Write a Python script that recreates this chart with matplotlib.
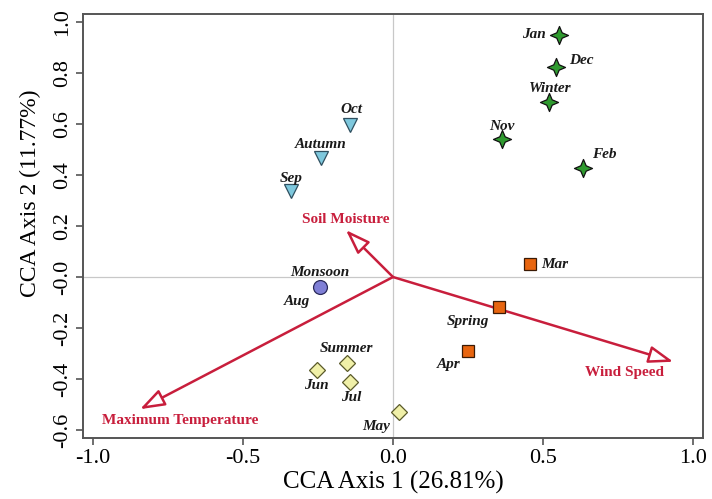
import matplotlib
matplotlib.use("Agg")
import matplotlib.pyplot as plt
from matplotlib.path import Path

# ---------------- data ----------------
winter_names = ["Jan", "Dec", "Winter", "Nov", "Feb"]
winter_x = [0.553, 0.542, 0.521, 0.362, 0.634]
winter_y = [0.949, 0.825, 0.685, 0.540, 0.426]

autumn_names = ["Oct", "Autumn", "Sep"]
autumn_x = [-0.143, -0.240, -0.340]
autumn_y = [0.596, 0.465, 0.337]

monsoon_x = [-0.243]
monsoon_y = [-0.038]

summer_names = ["Summer", "Jun", "Jul", "May"]
summer_x = [-0.154, -0.254, -0.143, 0.021]
summer_y = [-0.336, -0.365, -0.413, -0.528]

spring_names = ["Mar", "Spring", "Apr"]
spring_x = [0.457, 0.354, 0.251]
spring_y = [0.051, -0.119, -0.289]

env_names = ["Soil Moisture", "Wind Speed", "Maximum Temperature"]
env_x = [-0.157, 0.934, -0.843]
env_y = [0.184, -0.332, -0.518]

xticks = [-1.0, -0.5, 0.0, 0.5, 1.0]
xtick_labels = ["-1.0", "-0.5", "0.0", "0.5", "1.0"]
yticks = [-0.6, -0.4, -0.2, 0.0, 0.2, 0.4, 0.6, 0.8, 1.0]
ytick_labels = ["-0.6", "-0.4", "-0.2", "-0.0", "0.2", "0.4", "0.6", "0.8", "1.0"]

xlabel = "CCA Axis 1 (26.81%)"
ylabel = "CCA Axis 2 (11.77%)"

# ---------------- style / layout ----------------
plt.rcParams["font.family"] = ["Liberation Serif", "DejaVu Serif"]

fig = plt.figure(figsize=(7.12, 4.99), dpi=100)
ax = fig.add_axes([0.1166, 0.1222, 0.8708, 0.8498])
ax.set_xlim(-1.033, 1.033)
ax.set_ylim(-0.631, 1.031)

red = "#c81e3c"
spine_col = "#555555"
px = 0.72  # points per pixel

ax.axhline(0, color="#c8c8c8", lw=0.9, zorder=0)
ax.axvline(0, color="#c8c8c8", lw=0.9, zorder=0)

lab_kw = dict(fontsize=11, fontweight="bold", fontstyle="italic",
              color="#1a1a1a", ha="center", va="center",
              textcoords="offset points", zorder=6)

def label(name, x, y, dx, dy):
    ax.annotate(name, (x, y), xytext=(dx * px, -dy * px), **lab_kw)

# winter: 4-point stars
star = Path.unit_regular_star(4, 0.42)
ax.plot(winter_x, winter_y, ls="none", marker=star, ms=13,
        mfc="#2f9a2f", mec="#111111", mew=0.9, zorder=5)
winter_off = [(-25, 0), (26, -6), (1, -14), (0, -13), (21, -14)]
for n, x, y, (dx, dy) in zip(winter_names, winter_x, winter_y, winter_off):
    label(n, x, y, dx, dy)

# autumn: down triangles
ax.plot(autumn_x, autumn_y, ls="none", marker="v", ms=10.5,
        mfc="#7ec8dd", mec="#2f4f5f", mew=0.9, zorder=5)
autumn_off = [(1, -15), (0, -14), (0, -13)]
for n, x, y, (dx, dy) in zip(autumn_names, autumn_x, autumn_y, autumn_off):
    label(n, x, y, dx, dy)

# monsoon: circle
ax.plot(monsoon_x, monsoon_y, ls="none", marker="o", ms=10,
        mfc="#7f7fd6", mec="#2a2a5a", mew=0.9, zorder=5)
label("Monsoon", monsoon_x[0], monsoon_y[0], 0, -14)
label("Aug", monsoon_x[0], monsoon_y[0], -23, 15)

# summer: diamonds
ax.plot(summer_x, summer_y, ls="none", marker="D", ms=8.5,
        mfc="#f0f0a8", mec="#5a5a2a", mew=0.9, zorder=5)
summer_off = [(0, -14), (0, 15), (1, 15), (-23, 15)]
for n, x, y, (dx, dy) in zip(summer_names, summer_x, summer_y, summer_off):
    label(n, x, y, dx, dy)

# spring: squares
ax.plot(spring_x, spring_y, ls="none", marker="s", ms=9,
        mfc="#e8650f", mec="#3a1a05", mew=0.9, zorder=5)
spring_off = [(25, 0), (-31, 14), (-20, 14)]
for n, x, y, (dx, dy) in zip(spring_names, spring_x, spring_y, spring_off):
    label(n, x, y, dx, dy)

# environmental arrows
env_off = [(0, -11), (-49, 11), (40, 11)]
for n, x, y, (dx, dy) in zip(env_names, env_x, env_y, env_off):
    ax.annotate("", xy=(x, y), xytext=(0, 0),
                arrowprops=dict(arrowstyle="-|>,head_length=1.0,head_width=0.35",
                                mutation_scale=15, ec=red, fc="white", lw=1.8,
                                shrinkA=0, shrinkB=0), zorder=4)
    ax.annotate(n, (x, y), xytext=(dx * px, -dy * px), textcoords="offset points",
                fontsize=11, fontweight="bold", color=red,
                ha="center", va="center", zorder=6)

# axes styling
for s in ax.spines.values():
    s.set_color(spine_col)
    s.set_linewidth(1.4)
ax.set_xticks(xticks)
ax.set_xticklabels(xtick_labels)
ax.set_yticks(yticks)
ax.set_yticklabels(ytick_labels, rotation=90, va="center")
ax.tick_params(direction="out", length=5, width=1.2, color=spine_col,
               labelsize=16, pad=3)
ax.set_xlabel(xlabel, fontsize=18, labelpad=2)
ax.set_ylabel(ylabel, fontsize=17)
ax.yaxis.set_label_coords(-0.067, 0.578)

fig.savefig("out.png", dpi=100)
